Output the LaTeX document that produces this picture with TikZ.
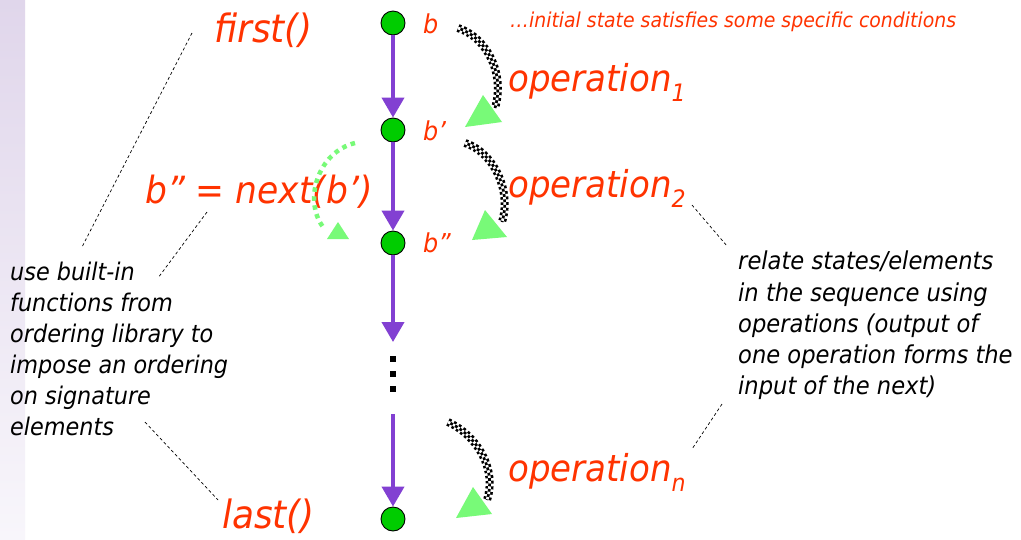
\documentclass[tikz,border=0pt]{standalone}
\usepackage{fontspec}
\setmainfont{DejaVu Sans}[FakeStretch=0.92]
\usetikzlibrary{arrows.meta}

\definecolor{lblred}{RGB}{255,51,0}
\definecolor{statefill}{RGB}{0,204,0}
\definecolor{seqpurple}{RGB}{130,64,210}
\definecolor{lightgreen}{RGB}{120,250,120}
\definecolor{bandtop}{RGB}{224,214,235}
\definecolor{bandbot}{RGB}{248,246,251}

% font size with a matching line skip, italic
\newcommand\fsz[2]{\fontsize{#1}{#2}\selectfont\itshape}
% small lowered index after an operation name
\newcommand\opidx[1]{\raisebox{-0.28em}{\fontsize{24}{24}\selectfont\itshape #1}}
% checkered thick stroke built from three rows of dashes
\newcommand\checkstroke[1]{%
  \draw[white,line width=8pt] #1;
  \draw[black,line width=8pt,dash pattern=on 2.7pt off 2.7pt] #1;
  \draw[white,line width=2.7pt,dash pattern=on 2.7pt off 2.7pt] #1;
  \draw[black,line width=2.7pt,dash pattern=on 2.7pt off 2.7pt,dash phase=2.7pt] #1;}

\begin{document}
\begin{tikzpicture}[x=1pt,y=-1pt,
  state/.style={circle,draw=black,line width=0.9pt,fill=statefill,minimum size=24pt,inner sep=0pt},
  seq/.style={seqpurple,line width=4pt,-{Triangle[width=22pt,length=20pt]}},
  redlbl/.style={text=lblred,inner sep=0pt,anchor=base west},
  note/.style={text=black,inner sep=0pt,anchor=north west,align=left},
  leader/.style={black,line width=0.7pt,dash pattern=on 3pt off 2.5pt},
  headtri/.style={fill=lightgreen,draw=none}]

\useasboundingbox (0,0) rectangle (1021,539);
\fill[white] (0,0) rectangle (1021,539);
% faint slide band on the left edge
\shade[top color=bandtop,bottom color=bandbot] (0,0) rectangle (25,539);

% state sequence
\node[state] (s1) at (393,23) {};
\node[state] (s2) at (393,130) {};
\node[state] (s3) at (393,243) {};
\node[state] (s4) at (393,519) {};
\coordinate (gapTop) at (393,342);
\coordinate (gapBot) at (393,414);

\draw[seq] (s1) -- (s2);
\draw[seq] (s2) -- (s3);
\draw[seq] (s3.south) -- (gapTop);
\draw[seq] (gapBot) -- (s4);

% ellipsis dots
\foreach \yy/\nm in {359/d1,374/d2,389/d3}
  \node[fill=black,minimum size=6.5pt,inner sep=0pt] (\nm) at (393,\yy) {};

% state labels
\node[redlbl,font=\fsz{26}{30}] (lb1) at (423,33) {b};
\node[redlbl,font=\fsz{26}{30}] (lb2) at (423,140) {b’};
\node[redlbl,font=\fsz{26}{30}] (lb3) at (423,252) {b”};
\node[redlbl,font=\fsz{20.5}{25}] (cond) at (510,27) {…initial state satisfies some specific conditions};

% function labels
\node[redlbl,font=\fsz{39}{44}] (first) at (214,42) {first()};
\node[redlbl,font=\fsz{37.5}{44}] (next) at (145,203) {b” = next(b’)};
\node[redlbl,font=\fsz{39}{44}] (last) at (222,528) {last()};

% operation labels
\node[redlbl,font=\fsz{37}{42}] (op1) at (508,91) {operation\opidx{1}};
\node[redlbl,font=\fsz{37}{42}] (op2) at (508,197) {operation\opidx{2}};
\node[redlbl,font=\fsz{37}{42}] (opn) at (508,481) {operation\opidx{n}};

% operation arrows
\coordinate (c1a) at (458,28);  \coordinate (c1b) at (495,108);
\coordinate (c2a) at (465,143); \coordinate (c2b) at (502,222);
\coordinate (c3a) at (448,422); \coordinate (c3b) at (487,500);
\checkstroke{(c1a) .. controls (488,38) and (505,75) .. (c1b)}
\checkstroke{(c2a) .. controls (493,152) and (512,190) .. (c2b)}
\checkstroke{(c3a) .. controls (478,436) and (497,470) .. (c3b)}
\fill[headtri] (483,95) -- (465,127) -- (502,122) -- cycle;
\fill[headtri] (485,210) -- (472,240) -- (507,237) -- cycle;
\fill[headtri] (473,487) -- (456,518) -- (492,514) -- cycle;

% next() arrow
\coordinate (na) at (355,143); \coordinate (nb) at (323,227);
\draw[lightgreen,line width=4.5pt,dash pattern=on 4.5pt off 4.5pt]
  (na) .. controls (318,152) and (303,200) .. (nb);
\fill[headtri] (338,222) -- (327,239) -- (349,239) -- cycle;

% notes
\node[note,font=\fsz{24.3}{31}] (lnote) at (10,262) {use built-in\\functions from\\ordering library to\\impose an ordering\\on signature\\elements};
\node[note,font=\fsz{24.6}{31.2}] (rnote) at (738,251) {relate states/elements\\in the sequence using\\operations (output of\\one operation forms the\\input of the next)};

% leader lines
\coordinate (l1a) at (192,33);  \coordinate (l1b) at (82,247);
\coordinate (l2a) at (207,212); \coordinate (l2b) at (158,278);
\coordinate (l3a) at (145,422); \coordinate (l3b) at (218,500);
\coordinate (l4a) at (692,205); \coordinate (l4b) at (727,246);
\coordinate (l5a) at (722,404); \coordinate (l5b) at (692,449);
\draw[leader] (l1a) -- (l1b);
\draw[leader] (l2a) -- (l2b);
\draw[leader] (l3a) -- (l3b);
\draw[leader] (l4a) -- (l4b);
\draw[leader] (l5a) -- (l5b);
\end{tikzpicture}
\end{document}
